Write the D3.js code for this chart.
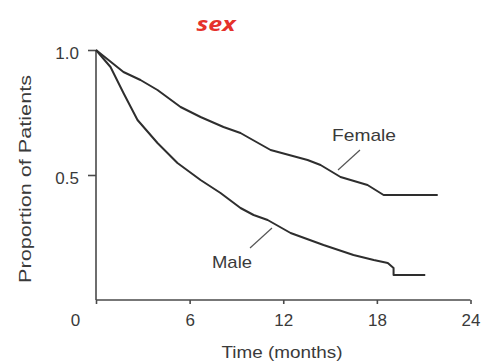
<!DOCTYPE html>
<html>
<head>
<meta charset="utf-8">
<script src="https://cdn.jsdelivr.net/npm/d3@7"></script>
<style>
  html, body { margin: 0; padding: 0; background: #fff; }
  svg { display: block; }
  text { font-family: "Liberation Sans", Arial, sans-serif; fill: #3a3a3a; }
</style>
</head>
<body>
<svg id="chart" width="481" height="361"></svg>
<script>
// Kaplan-Meier style survival estimates by sex
const femaleTime = [0, 1.76, 2.85, 3.94, 5.42, 6.70, 8.17, 9.26, 9.71, 11.19, 13.56, 14.39, 15.67, 17.40, 18.43, 21.9];
const femaleProp = [1.0, 0.912, 0.88, 0.84, 0.772, 0.732, 0.692, 0.668, 0.652, 0.60, 0.56, 0.54, 0.492, 0.46, 0.42, 0.42];

const maleTime = [0, 0.93, 1.76, 2.66, 3.94, 5.22, 6.70, 7.98, 9.26, 10.1, 11.0, 12.47, 14.58, 16.5, 17.8, 18.7, 19.07, 19.07, 21.1];
const maleProp = [1.0, 0.932, 0.828, 0.72, 0.628, 0.548, 0.48, 0.428, 0.368, 0.34, 0.32, 0.268, 0.22, 0.18, 0.16, 0.148, 0.128, 0.10, 0.10];

const xTicks = [0, 6, 12, 18, 24];
const yTicks = [0.5, 1.0];

const svg = d3.select("#chart");
const x = d3.scaleLinear().domain([0, 24]).range([96, 470.5]);
const y = d3.scaleLinear().domain([0, 1]).range([300, 50]);

// title
svg.append("text")
  .attr("x", 216).attr("y", 31)
  .attr("text-anchor", "middle")
  .attr("textLength", 39).attr("lengthAdjust", "spacingAndGlyphs")
  .style("font-family", "'Open Sans', sans-serif")
  .style("font-weight", "bold").style("font-style", "italic")
  .style("font-size", "20px").style("fill", "#e5322b")
  .text("sex");

// axes
const xAxis = svg.append("g")
  .attr("transform", `translate(0,${y(0)})`)
  .call(d3.axisBottom(x).tickValues(xTicks).tickSize(4).tickPadding(10).tickFormat(d3.format("d")));
xAxis.selectAll("text")
  .style("font-size", "17px")
  .attr("dx", d => d === 0 ? -21 : 0);
xAxis.select(".domain").attr("d", `M${x(0)},0H${x(24)}`);

const yAxis = svg.append("g")
  .attr("transform", `translate(${x(0)},0)`)
  .call(d3.axisLeft(y).tickValues(yTicks).tickSize(8).tickPadding(9).tickFormat(d3.format(".1f")));
yAxis.selectAll("text")
  .style("font-size", "17px")
  .attr("dy", "0.5em");
yAxis.select(".domain").attr("d", `M0,${y(1)}V${y(0)}`);

svg.selectAll(".domain, .tick line")
  .attr("stroke", "#4a4a4a").attr("stroke-width", 1.6);

// axis titles
svg.append("text")
  .attr("x", 282).attr("y", 358)
  .attr("text-anchor", "middle")
  .attr("textLength", 121).attr("lengthAdjust", "spacingAndGlyphs")
  .style("font-size", "16px")
  .text("Time (months)");

svg.append("text")
  .attr("transform", "translate(31,179) rotate(-90)")
  .attr("text-anchor", "middle")
  .attr("textLength", 208).attr("lengthAdjust", "spacingAndGlyphs")
  .style("font-size", "17px")
  .text("Proportion of Patients");

// survival curves
const line = d3.line().x(d => x(d[0])).y(d => y(d[1]));
const series = [
  d3.zip(femaleTime, femaleProp),
  d3.zip(maleTime, maleProp)
];
svg.selectAll(".curve").data(series).join("path")
  .attr("class", "curve")
  .attr("d", line)
  .attr("fill", "none")
  .attr("stroke", "#2e2e2e")
  .attr("stroke-width", 2)
  .attr("stroke-linejoin", "round");

// curve labels with leader lines
svg.append("text")
  .attr("x", 364).attr("y", 141)
  .attr("text-anchor", "middle")
  .attr("textLength", 64).attr("lengthAdjust", "spacingAndGlyphs")
  .style("font-size", "17px")
  .text("Female");
svg.append("line")
  .attr("x1", 360).attr("y1", 150).attr("x2", 338).attr("y2", 170)
  .attr("stroke", "#555").attr("stroke-width", 1.2);

svg.append("text")
  .attr("x", 232).attr("y", 268)
  .attr("text-anchor", "middle")
  .attr("textLength", 40).attr("lengthAdjust", "spacingAndGlyphs")
  .style("font-size", "17px")
  .text("Male");
svg.append("line")
  .attr("x1", 250).attr("y1", 248).attr("x2", 272).attr("y2", 228)
  .attr("stroke", "#555").attr("stroke-width", 1.2);
</script>
</body>
</html>
